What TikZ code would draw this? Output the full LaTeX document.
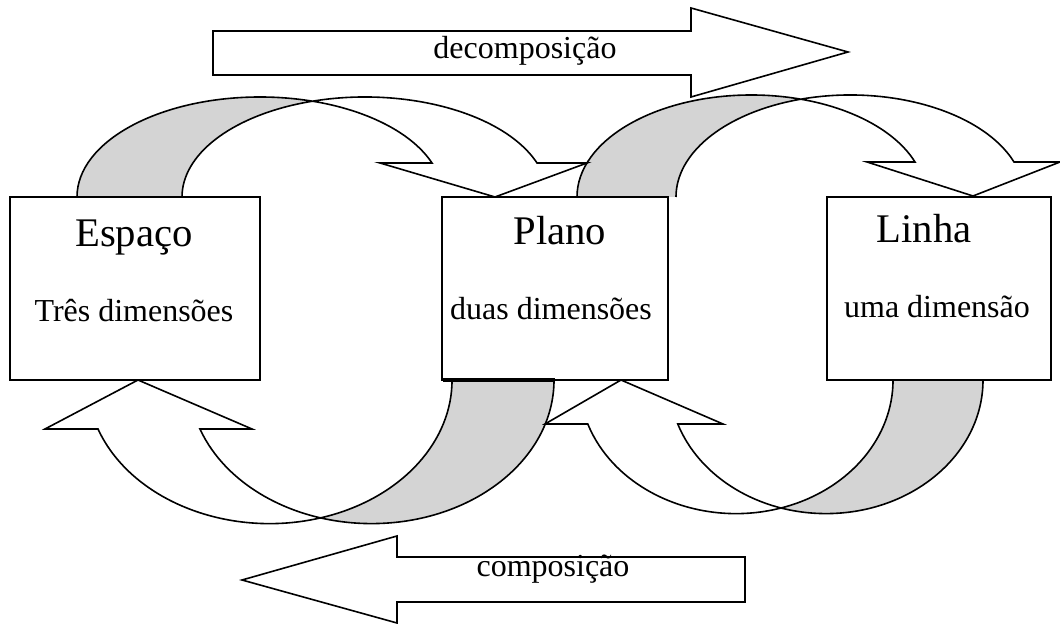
\documentclass[tikz,border=0pt]{standalone}
\usepackage{fontspec}
\setmainfont{Liberation Serif}
\begin{document}
\begin{tikzpicture}[x=0.75pt,y=0.75pt,
  outline/.style={draw=black,line width=1.2pt,line join=miter},
  shadefill/.style={fill=black!17},
  box/.style={draw=black,line width=1.2pt,inner sep=0pt,outer sep=0pt,minimum height=137.25pt},
  big/.style={anchor=base,inner sep=0pt,font=\fontsize{30.5}{36}\selectfont},
  small/.style={anchor=base,inner sep=0pt,font=\fontsize{24}{29}\selectfont}]
\useasboundingbox (0,0) rectangle (1060,624);
\fill[white] (0,0) rectangle (1060,624);

% straight arrows: decomposition (right) and composition (left)
\draw[outline,fill=white] (213,593) -- (691,593) -- (691,616) -- (848,572) -- (691,527) -- (691,549) -- (213,549) -- cycle;
\draw[outline,fill=white] (745,67) -- (397,67) -- (397,88) -- (242,44) -- (397,1) -- (397,22) -- (745,22) -- cycle;
\node[small] (dec) at (525,565) {decomposição};
\node[small] (comp) at (553,47) {composição};

% shaded rear parts of the curved ribbons
\fill[shadefill] (77,427) arc[start angle=180,end angle=73.32,x radius=182.95,y radius=100]
  arc[start angle=106.68,end angle=180,x radius=182.95,y radius=100] -- cycle;
\fill[shadefill] (577,427) arc[start angle=180,end angle=73.5,x radius=174.3,y radius=102]
  arc[start angle=106.5,end angle=180,x radius=174.3,y radius=102] -- cycle;
\fill[shadefill] (554,244) arc[start angle=0,end angle=-106.23,x radius=182.5,y radius=143.6]
  arc[start angle=-73.77,end angle=0,x radius=182.5,y radius=143.6] -- cycle;
\fill[shadefill] (983,244) arc[start angle=0,end angle=-106.66,x radius=157,y radius=133.6]
  arc[start angle=-73.34,end angle=0,x radius=157,y radius=133.6] -- cycle;

% curved arrows over the top (Espaço -> Plano, Plano -> Linha)
\draw[outline] (77,427) arc[start angle=180,end angle=19.88,x radius=182.95,y radius=100]
  -- (380,461) -- (495,427) -- (587,461) -- (537,461)
  arc[start angle=19.88,end angle=180,x radius=182.95,y radius=100];
\draw[outline] (577,427) arc[start angle=180,end angle=20.07,x radius=174.3,y radius=102]
  -- (867,462) -- (973,428) -- (1060,462) -- (1014,462)
  arc[start angle=20.07,end angle=180,x radius=174.3,y radius=102];

% curved arrows underneath (Plano -> Espaço, Linha -> Plano)
\draw[outline] (554,244) arc[start angle=0,end angle=-160.05,x radius=182.5,y radius=143.6]
  -- (252,195) -- (138,244) -- (45,195) -- (98,195)
  arc[start angle=-160.05,end angle=0,x radius=182.5,y radius=143.6];
\draw[outline] (983,244) arc[start angle=0,end angle=-160.77,x radius=157,y radius=133.6]
  -- (723,200) -- (621,244) -- (545,200) -- (587.8,200)
  arc[start angle=-160.77,end angle=0,x radius=157,y radius=133.6];

% boxes
\node[box,minimum width=187.5pt] (espaco) at (135,335.5) {};
\node[box,minimum width=169.5pt] (plano) at (555,335.5) {};
\node[box,minimum width=168pt] (linha) at (939,335.5) {};
\draw[line width=2.6pt] (443,244) -- (555,244);

\node[big] (espacoT) at (134,377) {Espaço};
\node[small] (espacoD) at (134,302) {Três dimensões};
\node[big] (planoT) at (560,379) {Plano};
\node[small] (planoD) at (551,304) {duas dimensões};
\node[big] (linhaT) at (924,381) {Linha};
\node[small] (linhaD) at (937,306) {uma dimensão};
\end{tikzpicture}
\end{document}
